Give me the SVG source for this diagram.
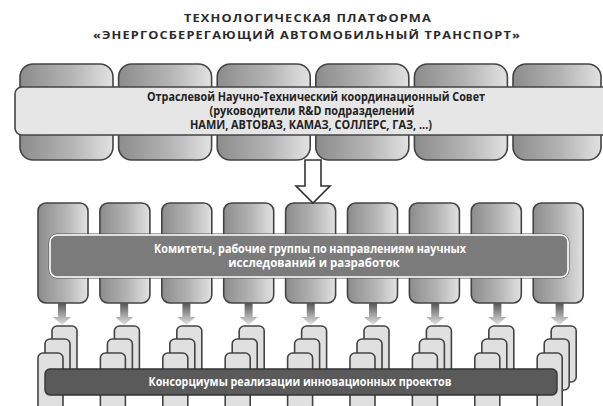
<svg xmlns="http://www.w3.org/2000/svg" width="603" height="406" viewBox="0 0 603 406">
<defs>
<linearGradient id="gBox" x1="0" y1="0" x2="1" y2="0">
<stop offset="0" stop-color="#8c8c8c"/>
<stop offset="0.55" stop-color="#b4b4b4"/>
<stop offset="1" stop-color="#e2e2e2"/>
</linearGradient>
<linearGradient id="gArr" x1="0" y1="0" x2="0" y2="1">
<stop offset="0" stop-color="#555"/>
<stop offset="1" stop-color="#e4e4e4"/>
</linearGradient>
</defs>
<style>
.title{font-family:"Open Sans","DejaVu Sans",sans-serif;font-weight:bold;font-size:11px;fill:#2a2a2a;text-anchor:middle;letter-spacing:1px}
.box{fill:url(#gBox);stroke:#444;stroke-width:1.6}
.band1{fill:#e6e6e6;stroke:#444;stroke-width:1.6}
.band2{fill:#7b7b7b;stroke:#fff;stroke-width:1.6}
.band3{fill:#5a5a5a;stroke:#333;stroke-width:1.4}
.card{fill:#e0e0e0;stroke:#444;stroke-width:1.6}
.t1{font-family:"Open Sans","DejaVu Sans",sans-serif;font-weight:bold;font-size:11.5px;fill:#222;text-anchor:middle}
.t2{font-family:"Open Sans","DejaVu Sans",sans-serif;font-weight:bold;font-size:11.5px;fill:#fff;text-anchor:middle}
.garr{fill:url(#gArr)}
.hollow{fill:#fff;stroke:#333;stroke-width:1.6}
</style>
<rect width="603" height="406" fill="#fff"/>
<g id="title">
<text class="title" x="308" y="22" textLength="248" lengthAdjust="spacingAndGlyphs">ТЕХНОЛОГИЧЕСКАЯ ПЛАТФОРМА</text>
<text class="title" x="307" y="39" textLength="428" lengthAdjust="spacingAndGlyphs">«ЭНЕРГОСБЕРЕГАЮЩИЙ АВТОМОБИЛЬНЫЙ ТРАНСПОРТ»</text>
</g>
<g id="council">
<rect class="box" x="20" y="64" width="93" height="96" rx="13"/>
<rect class="box" x="118.6" y="64" width="93" height="96" rx="13"/>
<rect class="box" x="217.2" y="64" width="93" height="96" rx="13"/>
<rect class="box" x="315.8" y="64" width="93" height="96" rx="13"/>
<rect class="box" x="414.4" y="64" width="93" height="96" rx="13"/>
<rect class="box" x="513" y="64" width="88" height="96" rx="13"/>
<rect class="band1" x="15" y="87" width="600" height="48" rx="7"/>
<text class="t1" x="316" y="101" textLength="338" lengthAdjust="spacingAndGlyphs">Отраслевой Научно-Технический координационный Совет</text>
<text class="t1" x="312" y="115" textLength="205" lengthAdjust="spacingAndGlyphs">(руководители R&amp;D подразделений</text>
<text class="t1" x="311" y="129" textLength="242" lengthAdjust="spacingAndGlyphs">НАМИ, АВТОВАЗ, КАМАЗ, СОЛЛЕРС, ГАЗ, ...)</text>
</g>
<g id="committees">
<rect class="box" x="38" y="203" width="50" height="100" rx="8"/>
<rect class="box" x="99.9" y="203" width="50" height="100" rx="8"/>
<rect class="box" x="161.8" y="203" width="50" height="100" rx="8"/>
<rect class="box" x="223.7" y="203" width="50" height="100" rx="8"/>
<rect class="box" x="285.6" y="203" width="50" height="100" rx="8"/>
<rect class="box" x="347.5" y="203" width="50" height="100" rx="8"/>
<rect class="box" x="409.4" y="203" width="50" height="100" rx="8"/>
<rect class="box" x="471.3" y="203" width="50" height="100" rx="8"/>
<rect class="box" x="533.2" y="203" width="50" height="100" rx="8"/>
<rect x="49" y="234" width="520" height="44" rx="8" fill="none" stroke="#555" stroke-width="1"/>
<rect class="band2" x="50" y="235" width="518" height="42" rx="7"/>
<text class="t2" x="310" y="253" textLength="312" lengthAdjust="spacingAndGlyphs">Комитеты, рабочие группы по направлениям научных</text>
<text class="t2" x="314" y="267">исследований и разработок</text>
</g>
<g id="consortia">
<rect class="card" x="52" y="326" width="25" height="56" rx="5"/><rect class="card" x="45" y="339" width="25" height="51" rx="5"/><rect class="card" x="38" y="353" width="25" height="62" rx="5"/>
<rect class="card" x="114.4" y="326" width="25" height="56" rx="5"/><rect class="card" x="107.4" y="339" width="25" height="51" rx="5"/><rect class="card" x="100.4" y="353" width="25" height="62" rx="5"/>
<rect class="card" x="176.8" y="326" width="25" height="56" rx="5"/><rect class="card" x="169.8" y="339" width="25" height="51" rx="5"/><rect class="card" x="162.8" y="353" width="25" height="62" rx="5"/>
<rect class="card" x="239.2" y="326" width="25" height="56" rx="5"/><rect class="card" x="232.2" y="339" width="25" height="51" rx="5"/><rect class="card" x="225.2" y="353" width="25" height="62" rx="5"/>
<rect class="card" x="301.6" y="326" width="25" height="56" rx="5"/><rect class="card" x="294.6" y="339" width="25" height="51" rx="5"/><rect class="card" x="287.6" y="353" width="25" height="62" rx="5"/>
<rect class="card" x="364" y="326" width="25" height="56" rx="5"/><rect class="card" x="357" y="339" width="25" height="51" rx="5"/><rect class="card" x="350" y="353" width="25" height="62" rx="5"/>
<rect class="card" x="426.4" y="326" width="25" height="56" rx="5"/><rect class="card" x="419.4" y="339" width="25" height="51" rx="5"/><rect class="card" x="412.4" y="353" width="25" height="62" rx="5"/>
<rect class="card" x="488.8" y="326" width="25" height="56" rx="5"/><rect class="card" x="481.8" y="339" width="25" height="51" rx="5"/><rect class="card" x="474.8" y="353" width="25" height="62" rx="5"/>
<rect class="card" x="551.2" y="326" width="25" height="56" rx="5"/><rect class="card" x="544.2" y="339" width="25" height="51" rx="5"/><rect class="card" x="537.2" y="353" width="25" height="62" rx="5"/>
<rect class="band3" x="45" y="369" width="512" height="26" rx="5"/>
<text class="t2" x="300" y="386" textLength="303" lengthAdjust="spacingAndGlyphs">Консорциумы реализации инновационных проектов</text>
</g>
<g id="connectors">
<path class="hollow" d="M305,160 L321,160 L321,186 L330,186 L313,203 L296,186 L305,186 Z"/>
<path class="garr" d="M58,303 h8 v14 h5 l-9,8 l-9,-8 h5 Z"/>
<path class="garr" d="M120.2,303 h8 v14 h5 l-9,8 l-9,-8 h5 Z"/>
<path class="garr" d="M182.4,303 h8 v14 h5 l-9,8 l-9,-8 h5 Z"/>
<path class="garr" d="M244.6,303 h8 v14 h5 l-9,8 l-9,-8 h5 Z"/>
<path class="garr" d="M306.8,303 h8 v14 h5 l-9,8 l-9,-8 h5 Z"/>
<path class="garr" d="M369,303 h8 v14 h5 l-9,8 l-9,-8 h5 Z"/>
<path class="garr" d="M431.2,303 h8 v14 h5 l-9,8 l-9,-8 h5 Z"/>
<path class="garr" d="M493.4,303 h8 v14 h5 l-9,8 l-9,-8 h5 Z"/>
<path class="garr" d="M555.6,303 h8 v14 h5 l-9,8 l-9,-8 h5 Z"/>
</g>
</svg>
